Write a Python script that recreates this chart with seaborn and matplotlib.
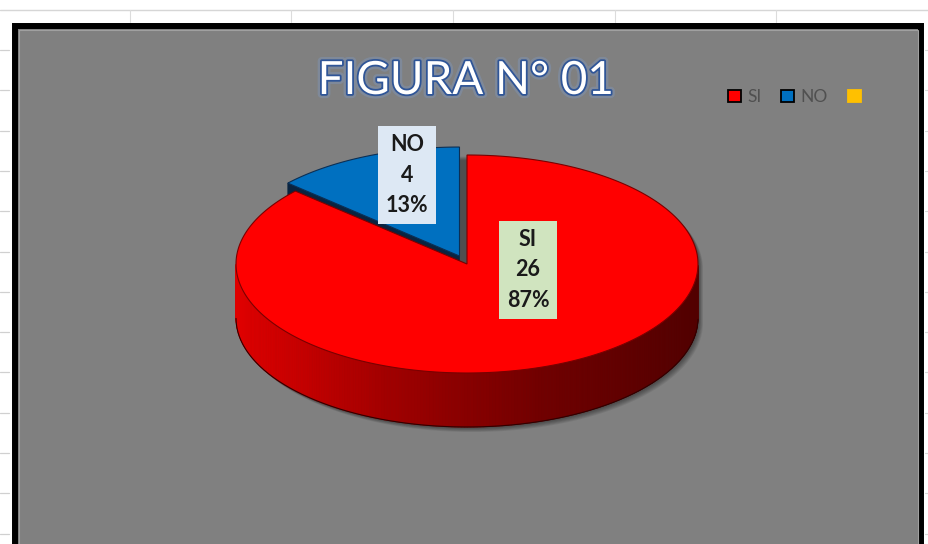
import numpy as np
import pandas as pd
import seaborn as sns
import matplotlib
matplotlib.use("Agg")
import matplotlib.pyplot as plt
from matplotlib.patches import Polygon, Rectangle, Patch
from matplotlib.collections import PolyCollection
from matplotlib.colors import LinearSegmentedColormap
import matplotlib.patheffects as pe

# ---------------- data ----------------
categories = ["SI", "NO", ""]
values = [26, 4, 0]
explode = [0.0, 0.08, 0.0]
title = "FIGURA N° 01"

sns.set_theme(style="white")
plt.rcParams['font.family'] = ['Lato', 'DejaVu Sans']

palette = sns.color_palette(["#ff0000", "#0070c0", "#ffc000"])
edge_cols = ["#7a0000", "#0b2f55", "#8a6a00"]
cut_cols = ["#5a0000", "#0a2440", "#806000"]
df = pd.DataFrame({"cat": categories, "val": values})
df["frac"] = df["val"] / df["val"].sum()

W, H = 929, 544
fig = plt.figure(figsize=(W / 100, H / 100), dpi=100)
ax = fig.add_axes([0, 0, 1, 1])
ax.set_xlim(0, W)
ax.set_ylim(H, 0)
ax.axis('off')

# spreadsheet background
ax.axhline(10, color="#d6d6d6", lw=1.0, zorder=0)
for xg in [130, 291, 453, 615, 776]:
    ax.plot([xg, xg], [10, 22], color="#dcdcdc", lw=0.8, zorder=0)
for yg in np.arange(50, H, 40.3):
    ax.plot([0, 9], [yg, yg], color="#d0d0d0", lw=0.9, zorder=0)
    ax.plot([925, 929], [yg, yg], color="#d8d8d8", lw=0.8, zorder=0)

# chart area
ax.add_patch(Rectangle((15.5, 25.5), 906, 600, facecolor="#808080",
                       edgecolor="black", lw=4.3, zorder=0.5))
ax.add_patch(Rectangle((19.5, 29.5), 898.5, 600, facecolor="none",
                       edgecolor="#a0a0a0", lw=0.8, zorder=0.6))

# ---------------- 3D pie ----------------
cx, cy, rx, ry, depth = 467, 264, 231, 109, 54


def pt(t, ox=0.0, oy=0.0, dz=0.0):
    r = np.radians(t)
    return np.column_stack([cx + ox + rx * np.cos(r),
                            cy + oy - ry * np.sin(r) + dz])


# angles: Excel starts at 12 o'clock, clockwise
slices = []
a = 90.0
for i, f in enumerate(df["frac"]):
    t1, t2 = a - 360 * f, a
    a = t1
    mid = np.radians((t1 + t2) / 2)
    ox = explode[i] * rx * np.cos(mid)
    oy = -explode[i] * ry * np.sin(mid)
    slices.append((t1, t2, ox, oy))

# soft shadow under silhouette
top_back = pt(np.linspace(0, 180, 120))
bot_front = pt(np.linspace(180, 360, 120), dz=depth)
sil = np.vstack([top_back, bot_front])
for k in range(6):
    ax.add_patch(Polygon(sil + np.array([1.5 + 0.7 * k, 1.5 + 0.7 * k]),
                         closed=True, facecolor="black", edgecolor="none",
                         alpha=0.07, zorder=1))

wall_cmap = LinearSegmentedColormap.from_list(
    "wall", ["#e00000", "#a00000", "#700000", "#520000"])

for i, (t1, t2, ox, oy) in enumerate(slices):
    if t2 - t1 <= 0:
        continue
    apex = np.array([[cx + ox, cy + oy]])
    # radial cut faces facing the viewer
    for t, nrm in [(t1, t1 - 90), (t2, t2 + 90)]:
        if np.sin(np.radians(nrm)) < -0.05:
            rim = pt([t], ox, oy)
            face = np.vstack([apex, rim, rim + [0, depth], apex + [0, depth]])
            ax.add_patch(Polygon(face, closed=True, facecolor=cut_cols[i],
                                 edgecolor=cut_cols[i], lw=0.5, zorder=2))
    # front outer wall
    tt = np.linspace(t1, t2, 400)
    tn = np.mod(tt, 360)
    vis = (tn >= 180) & (tn <= 360)
    polys, cols = [], []
    for j in range(len(tt) - 1):
        if vis[j] and vis[j + 1]:
            p0 = pt([tt[j]], ox, oy)[0]
            p1 = pt([tt[j + 1]], ox, oy)[0]
            polys.append([p0, p1, p1 + [0, depth], p0 + [0, depth]])
            xr = ((p0[0] + p1[0]) / 2 - (cx - rx)) / (2 * rx)
            if i == 0:
                cols.append(wall_cmap(xr))
            else:
                cols.append(tuple(np.array(palette[i]) * (0.75 - 0.4 * xr)))
    if polys:
        ax.add_collection(PolyCollection(polys, facecolors=cols,
                                         edgecolors=cols, lw=0.6, zorder=3))
        fv = tt[vis]
        ax.plot(*pt(fv, ox, oy, depth).T, color="#300000", lw=0.8, zorder=3.1)
    # top face
    arc = pt(np.linspace(t1, t2, 300), ox, oy)
    top = np.vstack([apex, arc])
    ax.add_patch(Polygon(top, closed=True, facecolor=palette[i],
                         edgecolor=edge_cols[i], lw=0.8,
                         zorder=4 if i == 0 else 2.5))

# ---------------- data labels ----------------
label_pos = {"SI": (528, 270, "#d0e4bf"), "NO": (407, 175, "#dde8f4")}
for cat, val, frac in zip(df["cat"], df["val"], df["frac"]):
    if cat not in label_pos:
        continue
    x, y, bg = label_pos[cat]
    ax.text(x, y, f"{cat}\n{val}\n{frac * 100:.0f}%", ha="center", va="center",
            fontsize=15.5, fontweight="bold", color="#1a1a1a", linespacing=1.55,
            zorder=6,
            bbox=dict(boxstyle="square,pad=0.38", facecolor=bg, edgecolor="none"))

# ---------------- title ----------------
ax.text(466, 81, title, ha="center", va="center", fontsize=33, color="white",
        zorder=6,
        path_effects=[pe.Stroke(linewidth=6, foreground="#7f9cc8", alpha=0.35),
                      pe.Stroke(linewidth=2.6, foreground="#2f5597"),
                      pe.Normal()])

# ---------------- legend ----------------
handles = [Patch(facecolor=palette[i],
                 edgecolor="black" if i < 2 else palette[i], lw=1.3)
           for i in range(len(categories))]
leg = ax.legend(handles, categories, loc="center left",
                bbox_to_anchor=(728, 97), bbox_transform=ax.transData,
                ncol=3, frameon=False, fontsize=12.5, handlelength=0.75,
                handleheight=0.75, handletextpad=0.35, columnspacing=1.15,
                labelcolor="#505050", borderaxespad=0, borderpad=0)
leg.set_zorder(7)

fig.savefig("out.png", dpi=100)
